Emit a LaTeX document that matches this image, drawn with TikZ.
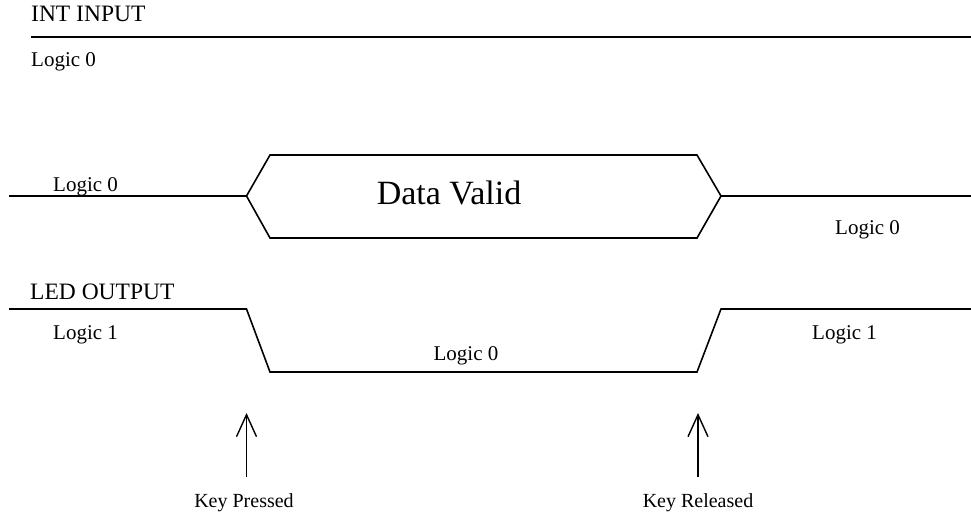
\documentclass[tikz,border=0pt]{standalone}
\usepackage{fontspec}
\setmainfont{Liberation Serif}
\usetikzlibrary{arrows.meta}
\tikzset{
  wave/.style={line width=1.6pt, line join=miter},
  lbl/.style={inner sep=0pt, font=\fontsize{21}{25}\selectfont},
  keylbl/.style={inner sep=0pt, font=\fontsize{20}{24}\selectfont},
  head/.style={inner sep=0pt, font=\fontsize{23.5}{28}\selectfont},
  big/.style={inner sep=0pt, font=\fontsize{34}{40}\selectfont},
  keyarrow/.style={line width=1.4pt, -{Straight Barb[length=22pt,width=20pt,line width=1.4pt]}}
}
\begin{document}
\begin{tikzpicture}[x=1pt,y=-1pt]
\useasboundingbox (0,0) rectangle (971,514);
% INT INPUT
\node[head, anchor=base west] (intlbl) at (31,21) {INT INPUT};
\coordinate (i0) at (31,37);
\coordinate (i1) at (971,37);
\draw[wave] (i0) -- (i1);
\node[lbl, anchor=base west] (int0) at (31,66) {Logic 0};
% Data bus
\coordinate (d0) at (9,196);
\coordinate (dl) at (246.5,196);
\coordinate (dtl) at (270,155);
\coordinate (dtr) at (697,155);
\coordinate (dr) at (721,196);
\coordinate (dbr) at (697,238);
\coordinate (dbl) at (270,238);
\coordinate (d1) at (971,196);
\draw[wave] (dl) -- (dtl) -- (dtr) -- (dr) -- (dbr) -- (dbl) -- cycle;
\draw[wave] (d0) -- (dl);
\draw[wave] (dr) -- (d1);
\node[lbl, anchor=base west] (dlog0) at (53,191) {Logic 0};
\node[big] (dvalid) at (449,193) {Data Valid};
\node[lbl, anchor=base west] (dlog0r) at (835,234) {Logic 0};
% LED OUTPUT
\node[head, anchor=base west] (ledlbl) at (30,299) {LED OUTPUT};
\coordinate (l0) at (9,309);
\coordinate (l1) at (246.5,309);
\coordinate (l2) at (270,372);
\coordinate (l3) at (697,372);
\coordinate (l4) at (721,309);
\coordinate (l5) at (971,309);
\draw[wave] (l0) -- (l1) -- (l2) -- (l3) -- (l4) -- (l5);
\node[lbl, anchor=base west] (llog1) at (53,339) {Logic 1};
\node[lbl, anchor=base] (llog0) at (466,360) {Logic 0};
\node[lbl, anchor=base west] (llog1r) at (812,339) {Logic 1};
% Key events
\coordinate (a0) at (246.5,477);
\coordinate (a1) at (246.5,413);
\coordinate (b0) at (698,477);
\coordinate (b1) at (698,413);
\draw[keyarrow] (a0) -- (a1);
\draw[keyarrow] (b0) -- (b1);
\node[keylbl, anchor=base] (kp) at (244,507) {Key Pressed};
\node[keylbl, anchor=base] (kr) at (698,507) {Key Released};
\end{tikzpicture}
\end{document}
